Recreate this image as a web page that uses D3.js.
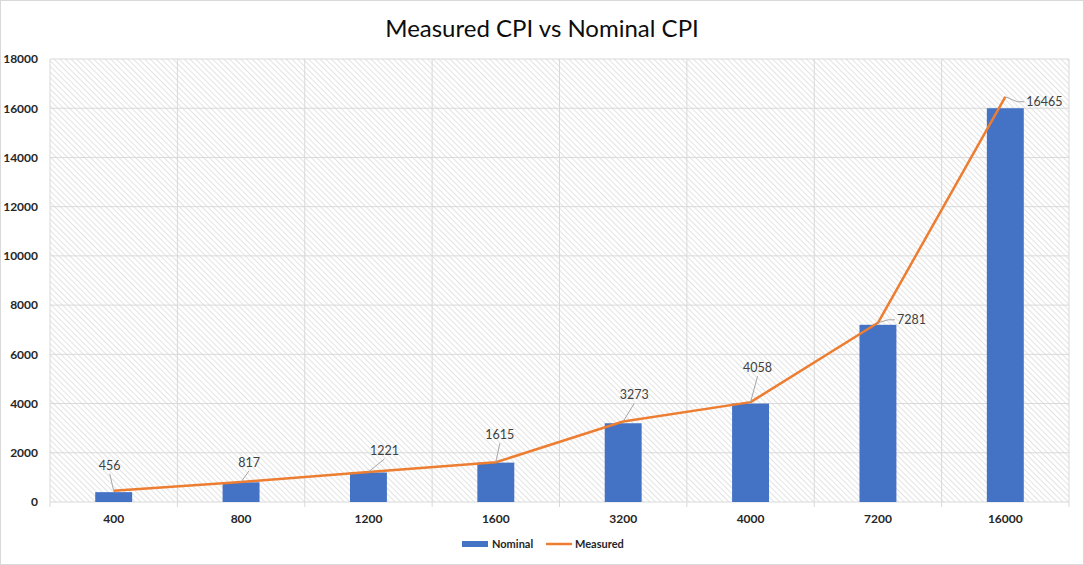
<!DOCTYPE html>
<html><head><meta charset="utf-8">
<script src="https://cdn.jsdelivr.net/npm/d3@7"></script>
<style>
body{margin:0;background:#fff;}
svg{display:block;font-family:Lato,"Open Sans",sans-serif;}
</style></head>
<body><svg id="c" width="1084" height="565"></svg>
<script>
const categories = ["400","800","1200","1600","3200","4000","7200","16000"];
const nominal = [400,800,1200,1600,3200,4000,7200,16000];
const measured = [456,817,1221,1615,3273,4058,7281,16465];
const yTicks = [0,2000,4000,6000,8000,10000,12000,14000,16000,18000];
// label offsets (styling) relative to point; side flag
const labelOffsets = [[-4,-21,0],[8,-15,0],[16,-17,0],[4,-23,0],[11,-22,0],[7,-30,0],[22,-3,1],[24,5,1]];

const svg = d3.select("#c");
const W=1084,H=565;
const m={l:50,r:15,t:59,b:63};
const pw=W-m.l-m.r, ph=H-m.t-m.b;

svg.append("rect").attr("x",0.5).attr("y",0.5).attr("width",W-1).attr("height",H-1)
  .attr("fill","#fff").attr("stroke","#d9d9d9");

const defs=svg.append("defs");
const pat=defs.append("pattern").attr("id","hatch").attr("patternUnits","userSpaceOnUse")
  .attr("width",4).attr("height",4).attr("patternTransform","rotate(-45)");
pat.append("rect").attr("width",4).attr("height",4).attr("fill","#fff");
pat.append("line").attr("x1",0).attr("y1",0).attr("x2",0).attr("y2",4).attr("stroke","#cccccc").attr("stroke-width",1.1);

const x=d3.scaleBand().domain(categories).range([m.l,m.l+pw]).paddingInner(0.71).paddingOuter(0.355);
const xb=d3.scaleBand().domain(categories).range([m.l,m.l+pw]);
const y=d3.scaleLinear().domain([0,18000]).range([m.t+ph,m.t]);

svg.append("rect").attr("x",m.l).attr("y",m.t).attr("width",pw).attr("height",ph).attr("fill","url(#hatch)");

// horizontal grid
svg.append("g").selectAll("line").data(yTicks).join("line")
  .attr("x1",m.l).attr("x2",m.l+pw).attr("y1",d=>y(d)).attr("y2",d=>y(d))
  .attr("stroke","#d9d9d9").attr("stroke-width",1);
// vertical grid
const vb=categories.map(c=>xb(c)).concat([m.l+pw]);
svg.append("g").selectAll("line").data(vb).join("line")
  .attr("x1",d=>d).attr("x2",d=>d).attr("y1",m.t).attr("y2",y(0)+5)
  .attr("stroke","#d9d9d9").attr("stroke-width",1);

// y axis labels
const ya=svg.append("g").attr("transform",`translate(${m.l-12},0)`)
  .call(d3.axisLeft(y).tickValues(yTicks).tickSize(0).tickPadding(0).tickFormat(d3.format("d")));
ya.select(".domain").remove();
ya.selectAll("text").attr("font-size",12).attr("font-weight",700).attr("fill","#262626").attr("font-family","Lato,sans-serif");

// x axis labels
const xa=svg.append("g").attr("transform",`translate(0,${y(0)+10})`)
  .call(d3.axisBottom(xb).tickSize(0).tickPadding(0));
xa.select(".domain").remove();
xa.selectAll("text").attr("font-size",12).attr("font-weight",700).attr("fill","#262626").attr("font-family","Lato,sans-serif").attr("dy","0.9em");

// bars
svg.append("g").selectAll("rect").data(nominal).join("rect")
  .attr("x",(d,i)=>x(categories[i])).attr("width",x.bandwidth())
  .attr("y",d=>y(d)).attr("height",d=>y(0)-y(d)).attr("fill","#4472C4");

// line
const cx=i=>xb(categories[i])+xb.bandwidth()/2;
svg.append("path").datum(measured)
  .attr("d",d3.line().x((d,i)=>cx(i)).y(d=>y(d)))
  .attr("fill","none").attr("stroke","#ED7D31").attr("stroke-width",2.5).attr("stroke-linejoin","round");

// data labels with leader lines
const lg=svg.append("g");
measured.forEach((v,i)=>{
  const px=cx(i), py=y(v);
  const [dx,dy,right]=labelOffsets[i];
  const lx=px+dx, ly=py+dy;
  if(right){
    lg.append("polyline").attr("points",`${px},${py} ${lx-12},${ly} ${lx-5},${ly}`)
      .attr("fill","none").attr("stroke","#a6a6a6").attr("stroke-width",1);
    lg.append("text").attr("x",lx-3).attr("y",ly).attr("dy","0.35em").attr("text-anchor","start")
      .attr("font-size",12.5).attr("fill","#404040").text(v);
  } else {
    lg.append("line").attr("x1",px).attr("y1",py).attr("x2",lx).attr("y2",ly+4)
      .attr("stroke","#a6a6a6").attr("stroke-width",1);
    lg.append("text").attr("x",lx).attr("y",ly).attr("text-anchor","middle")
      .attr("font-size",12.5).attr("fill","#404040").text(v);
  }
});

// title
svg.append("text").attr("x",542).attr("y",37).attr("text-anchor","middle")
  .attr("font-size",24).attr("fill","#0d0d0d").attr("font-family","Lato,sans-serif").text("Measured CPI vs Nominal CPI");

// legend
const leg=svg.append("g").attr("transform","translate(462,544)");
leg.append("rect").attr("x",0).attr("y",-3).attr("width",26).attr("height",6).attr("fill","#4472C4");
leg.append("text").attr("x",30).attr("y",0).attr("dy","0.35em").attr("font-size",11).attr("font-weight",700).attr("fill","#262626").text("Nominal");
leg.append("line").attr("x1",84).attr("x2",110).attr("y1",0).attr("y2",0).attr("stroke","#ED7D31").attr("stroke-width",2.5);
leg.append("text").attr("x",113).attr("y",0).attr("dy","0.35em").attr("font-size",11).attr("font-weight",700).attr("fill","#262626").text("Measured");
</script></body></html>
